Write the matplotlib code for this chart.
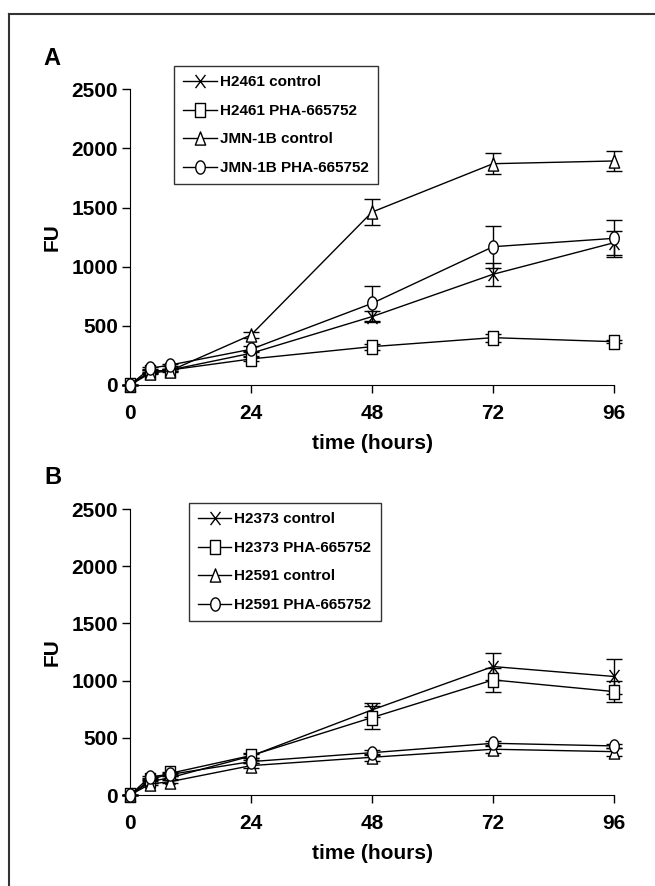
import matplotlib.pyplot as plt
from matplotlib.path import Path
import numpy as np

plt.rcParams['font.family'] = ['Liberation Sans', 'DejaVu Sans']
plt.rcParams['font.weight'] = 'bold'

# time points (hours)
t = np.array([0, 4, 8, 24, 48, 72, 96])

# Panel A
a_labels = ['H2461 control', 'H2461 PHA-665752', 'JMN-1B control', 'JMN-1B PHA-665752']
a_vals = [
    [0, 113, 127, 268, 578, 936, 1203],
    [0, 113, 127, 220, 324, 400, 366],
    [0, 99, 121, 423, 1462, 1871, 1894],
    [0, 141, 169, 302, 690, 1169, 1240],
]
a_err = [
    [0, 10, 10, 20, 45, 95, 100],
    [0, 10, 10, 15, 25, 35, 12],
    [0, 10, 10, 25, 113, 87, 82],
    [0, 10, 10, 25, 146, 177, 155],
]

# Panel B
b_labels = ['H2373 control', 'H2373 PHA-665752', 'H2591 control', 'H2591 PHA-665752']
b_vals = [
    [0, 117, 152, 341, 744, 1123, 1036],
    [0, 131, 190, 345, 677, 1006, 904],
    [0, 96, 117, 257, 330, 400, 379],
    [0, 160, 180, 292, 370, 452, 429],
]
b_err = [
    [0, 10, 10, 20, 58, 117, 152],
    [0, 10, 10, 20, 102, 106, 95],
    [0, 10, 10, 20, 30, 35, 35],
    [0, 10, 10, 15, 20, 20, 20],
]

# markers a bit taller than wide, like the scanned original
ang = np.linspace(0, 2 * np.pi, 40)
m_ellipse = Path(np.column_stack([0.72 * np.cos(ang), np.sin(ang)]), closed=True)
m_rect = Path([(-0.75, -1), (0.75, -1), (0.75, 1), (-0.75, 1), (-0.75, -1)], closed=True)
m_tri = Path([(-0.78, -1), (0.78, -1), (0, 1), (-0.78, -1)], closed=True)
m_x = Path([(-0.75, -1), (0.75, 1), (-0.75, 1), (0.75, -1)],
           [Path.MOVETO, Path.LINETO, Path.MOVETO, Path.LINETO])
markers = [m_x, m_rect, m_tri, m_ellipse]

fig = plt.figure(figsize=(6.55, 8.86), dpi=100)

# partial frame round the figure (top and left)
fig.add_artist(plt.Line2D([0.014, 1.0], [0.984, 0.984], color='#333333', lw=1.5))
fig.add_artist(plt.Line2D([0.014, 0.014], [0.0, 0.984], color='#333333', lw=1.5))


def panel(rect, labels, vals, errs, letter, leg_anchor):
    ax = fig.add_axes(rect)
    handles = []
    for lab, v, e, m in zip(labels, vals, errs, markers):
        c = ax.errorbar(t, v, yerr=e, marker=m, color='black', mfc='white', mec='black',
                        ms=9.5, mew=1.0, lw=1.0, elinewidth=1.0,
                        capsize=6, capthick=1.0, label=lab, clip_on=False, zorder=3)
        handles.append(c[0])
    ax.set_xlim(0, 96)
    ax.set_ylim(0, 2500)
    ax.set_xticks([0, 24, 48, 72, 96])
    ax.set_yticks([0, 500, 1000, 1500, 2000, 2500])
    ax.spines['top'].set_visible(False)
    ax.spines['right'].set_visible(False)
    ax.tick_params(direction='out', length=5.5, width=1, labelsize=15, pad=3)
    ax.tick_params(axis='x', pad=8)
    ax.xaxis.get_major_ticks()[0].tick1line.set_visible(False)
    for lab in ax.get_xticklabels() + ax.get_yticklabels():
        lab.set_fontweight('bold')
    ax.set_xlabel('time (hours)', fontsize=15, fontweight='bold', labelpad=8)
    ax.set_ylabel('FU', fontsize=15, fontweight='bold', labelpad=7)
    leg = ax.legend(handles, labels, loc='upper left', bbox_to_anchor=leg_anchor, fontsize=11,
                    frameon=True, fancybox=False, edgecolor='black',
                    handlelength=2.2, handletextpad=0.2, borderpad=0.6,
                    labelspacing=0.95, borderaxespad=0)
    leg.get_frame().set_linewidth(1.0)
    for txt in leg.get_texts():
        txt.set_fontweight('bold')
    fig.text(0.067, rect[1] + rect[3] + 0.028, letter, fontsize=17, fontweight='bold')
    return ax


panel([0.1985, 0.5655, 0.739, 0.3337], a_labels, a_vals, a_err, 'A', (0.091, 1.078))
panel([0.1985, 0.1027, 0.739, 0.3228], b_labels, b_vals, b_err, 'B', (0.121, 1.02))

fig.savefig('out.png', dpi=100)
